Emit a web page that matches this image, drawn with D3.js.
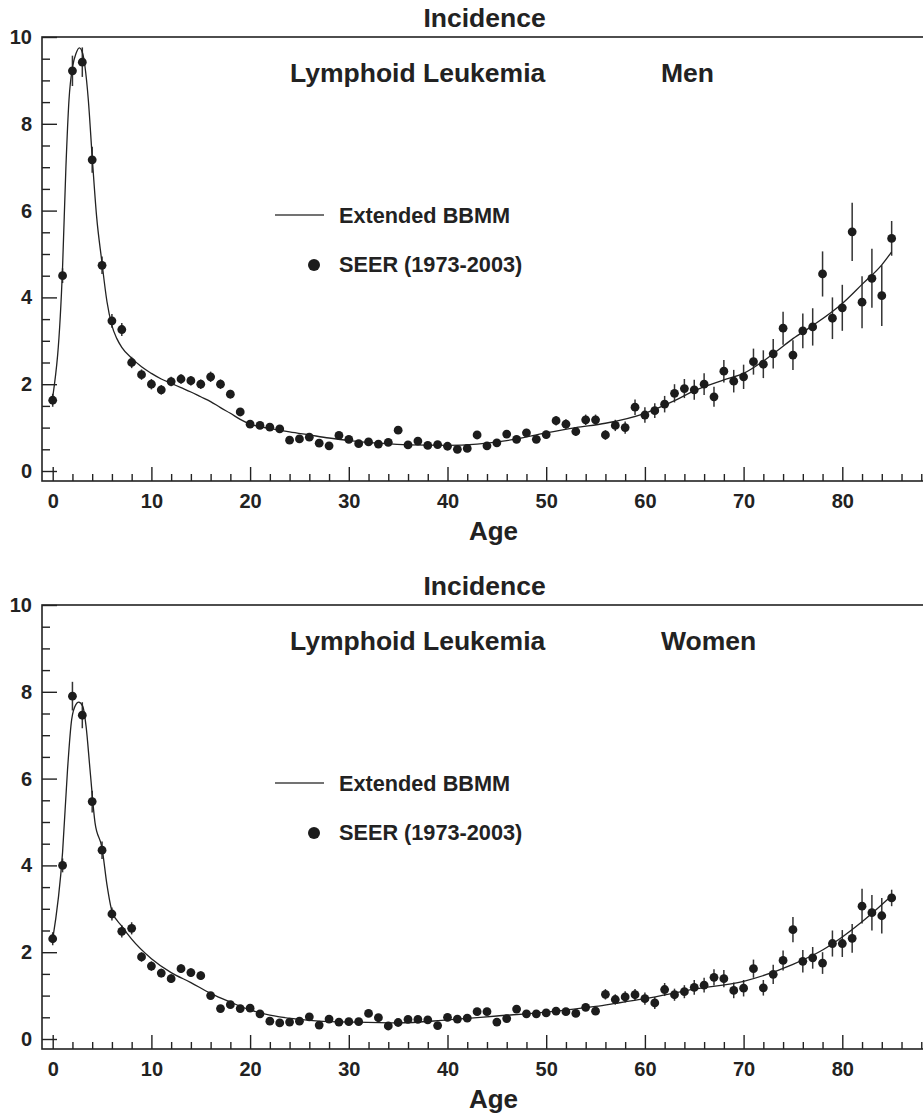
<!DOCTYPE html>
<html><head><meta charset="utf-8">
<script src="https://cdn.jsdelivr.net/npm/d3@7"></script>
<style>
html,body{margin:0;padding:0;background:#fff;}
svg{display:block;font-family:"Liberation Sans",Arial,Helvetica,sans-serif;font-weight:bold;}
</style></head><body>
<script>
const ages = d3.range(0, 86);
const menRate = [1.63,4.50,9.22,9.42,7.17,4.74,3.46,3.26,2.50,2.22,2.00,1.87,2.06,2.12,2.08,2.00,2.17,2.00,1.77,1.36,1.08,1.05,1.01,0.97,0.71,0.74,0.78,0.64,0.58,0.82,0.73,0.63,0.67,0.62,0.66,0.94,0.60,0.69,0.59,0.61,0.57,0.50,0.52,0.83,0.58,0.65,0.85,0.73,0.88,0.73,0.84,1.16,1.08,0.91,1.18,1.18,0.83,1.05,1.00,1.47,1.29,1.39,1.54,1.79,1.90,1.87,2.00,1.71,2.30,2.07,2.17,2.52,2.46,2.70,3.29,2.67,3.23,3.32,4.54,3.52,3.76,5.51,3.89,4.44,4.04,5.36];
const menErr = [0.15,0.17,0.35,0.34,0.30,0.20,0.16,0.15,0.13,0.12,0.12,0.11,0.11,0.11,0.11,0.11,0.12,0.11,0.10,0.09,0.08,0.08,0.08,0.08,0.07,0.07,0.07,0.07,0.07,0.07,0.07,0.07,0.07,0.07,0.07,0.08,0.07,0.07,0.07,0.07,0.07,0.07,0.07,0.08,0.07,0.08,0.08,0.08,0.09,0.08,0.09,0.11,0.11,0.10,0.12,0.12,0.11,0.13,0.14,0.18,0.18,0.17,0.19,0.21,0.22,0.23,0.25,0.23,0.26,0.26,0.28,0.30,0.32,0.34,0.38,0.34,0.40,0.43,0.52,0.48,0.53,0.67,0.60,0.68,0.70,0.40];
const menCurveAge = [0,1,1.34,1.65,2.02,2.36,2.7,3.04,3.27,3.61,4.02,4.45,4.96,5.5,6,6.5,7,8,9,10,11,12,13,14,15,16,17,18,19,20,22,24,26,28,30,33,36,40,43,46,50,53,56,60,63,65,68,70,73,75,77,80,82,84,85];
const menCurveVal = [1.7,4.7,7.01,8.55,9.32,9.62,9.75,9.62,9.32,8.55,7.17,5.86,4.86,3.9,3.35,3.05,2.85,2.6,2.4,2.25,2.12,2.02,1.92,1.82,1.71,1.6,1.46,1.33,1.19,1.08,0.98,0.9,0.83,0.76,0.70,0.64,0.60,0.59,0.62,0.70,0.88,1.0,1.1,1.33,1.62,1.85,2.1,2.25,2.7,3.05,3.35,3.86,4.3,4.75,5.05];

const womenRate = [2.31,4.00,7.90,7.46,5.47,4.35,2.88,2.48,2.55,1.89,1.68,1.52,1.39,1.62,1.53,1.46,1.00,0.70,0.79,0.70,0.71,0.58,0.41,0.37,0.39,0.41,0.51,0.32,0.46,0.39,0.40,0.40,0.59,0.49,0.30,0.38,0.45,0.45,0.44,0.31,0.50,0.46,0.48,0.63,0.63,0.39,0.47,0.69,0.58,0.58,0.60,0.64,0.63,0.59,0.73,0.64,1.03,0.91,0.97,1.02,0.93,0.83,1.14,1.02,1.09,1.19,1.24,1.42,1.39,1.12,1.17,1.62,1.18,1.49,1.81,2.52,1.79,1.87,1.75,2.20,2.20,2.32,3.06,2.91,2.84,3.25];
const womenErr = [0.15,0.16,0.33,0.30,0.25,0.20,0.15,0.14,0.14,0.11,0.11,0.10,0.10,0.10,0.10,0.10,0.08,0.07,0.07,0.07,0.07,0.06,0.05,0.05,0.05,0.05,0.06,0.05,0.05,0.05,0.05,0.05,0.06,0.05,0.05,0.05,0.05,0.05,0.05,0.05,0.06,0.05,0.05,0.06,0.06,0.05,0.06,0.07,0.06,0.06,0.06,0.07,0.07,0.07,0.07,0.07,0.12,0.12,0.13,0.13,0.14,0.14,0.15,0.14,0.15,0.17,0.17,0.19,0.20,0.18,0.19,0.21,0.18,0.22,0.23,0.29,0.26,0.25,0.25,0.30,0.31,0.33,0.40,0.41,0.41,0.19];
const womenCurveAge = [0,1,1.5,1.92,2.36,2.63,3.04,3.38,3.78,4.29,5,5.5,6,7,8,10,12,14,16,18,20,22,25,27,30,35,40,45,50,55,57,60,65,70,75,78,80,82,85];
const womenCurveVal = [2.3,4.3,6.2,7.36,7.71,7.76,7.67,7.21,6.21,4.98,4.4,3.55,2.95,2.6,2.3,1.85,1.53,1.3,1.05,0.85,0.67,0.55,0.45,0.41,0.39,0.37,0.44,0.53,0.62,0.75,0.82,0.93,1.15,1.33,1.72,2.05,2.35,2.7,3.3];

const xTicksMajor = [0,10,20,30,40,50,60,70,80];
const yTicksMajor = [0,2,4,6,8,10];
const titleText = "Incidence";
const diseaseText = "Lymphoid Leukemia";
const panelSex = ["Men","Women"];
const legendLine = "Extended BBMM";
const legendDots = "SEER (1973-2003)";
const xLabel = "Age";

const W = 923, H = 1115;
const svg = d3.select("body").append("svg").attr("width", W).attr("height", H);

const panels = [
  {off: 0, rate: menRate, err: menErr, cA: menCurveAge, cV: menCurveVal, sex: panelSex[0]},
  {off: 568, rate: womenRate, err: womenErr, cA: womenCurveAge, cV: womenCurveVal, sex: panelSex[1]}
];

const x = d3.scaleLinear().domain([0, 80]).range([52.7, 842.3]);
const frameL = 42, frameR = 935;

panels.forEach(p => {
  const g = svg.append("g").attr("transform", `translate(0,${p.off})`);
  const y = d3.scaleLinear().domain([0, 10]).range([471, 37]);
  const frameT = 37, frameB = 481;

  // frame
  g.append("rect").attr("x", frameL).attr("y", frameT).attr("width", frameR - frameL).attr("height", frameB - frameT)
    .attr("fill", "none").attr("stroke", "#222").attr("stroke-width", 1.6);

  // x axis minor
  const xMinor = d3.range(0, 89, 2).filter(v => v % 10 !== 0);
  const gxm = g.append("g").attr("transform", `translate(0,${frameB})`)
    .call(d3.axisBottom(x).tickValues(xMinor).tickSize(-7).tickFormat("").tickSizeOuter(0));
  const gx = g.append("g").attr("transform", `translate(0,${frameB})`)
    .call(d3.axisBottom(x).tickValues(xTicksMajor).tickSize(-14).tickPadding(13).tickSizeOuter(0).tickFormat(d3.format("d")));
  [gxm, gx].forEach(a => { a.select(".domain").remove(); a.selectAll("line").attr("stroke", "#222").attr("stroke-width", 1.4); });
  gx.selectAll("text").attr("font-size", 20).attr("font-weight", "bold").attr("fill", "#222")
    .attr("font-family", "'Liberation Sans', Arial, sans-serif");

  // y axis
  const yMinor = d3.range(0, 10.01, 0.5).filter(v => v % 2 !== 0);
  const gym = g.append("g").attr("transform", `translate(${frameL},0)`)
    .call(d3.axisLeft(y).tickValues(yMinor).tickSize(-8).tickFormat("").tickSizeOuter(0));
  const gy = g.append("g").attr("transform", `translate(${frameL},0)`)
    .call(d3.axisLeft(y).tickValues(yTicksMajor).tickSize(-15).tickPadding(10).tickSizeOuter(0).tickFormat(d3.format("d")));
  [gym, gy].forEach(a => { a.select(".domain").remove(); a.selectAll("line").attr("stroke", "#222").attr("stroke-width", 1.4); });
  gy.selectAll("text").attr("font-size", 20).attr("font-weight", "bold").attr("fill", "#222")
    .attr("font-family", "'Liberation Sans', Arial, sans-serif");

  // error bars
  g.append("g").selectAll("line").data(ages).join("line")
    .attr("x1", d => x(d)).attr("x2", d => x(d))
    .attr("y1", (d, i) => y(p.rate[i] - p.err[i]))
    .attr("y2", (d, i) => y(p.rate[i] + p.err[i]))
    .attr("stroke", "#333").attr("stroke-width", 1.5);

  // model curve
  const line = d3.line().x(d => x(d[0])).y(d => y(d[1])).curve(d3.curveMonotoneX);
  g.append("path").datum(p.cA.map((a, i) => [a, p.cV[i]]))
    .attr("d", line).attr("fill", "none").attr("stroke", "#222").attr("stroke-width", 1.3);

  // dots
  g.append("g").selectAll("circle").data(ages).join("circle")
    .attr("cx", d => x(d)).attr("cy", (d, i) => y(p.rate[i])).attr("r", 4.4)
    .attr("fill", "#1c1c1c");

  // texts
  g.append("text").attr("x", 484.5).attr("y", 27).attr("text-anchor", "middle")
    .attr("font-size", 26.5).attr("fill", "#222").text(titleText);
  g.append("text").attr("x", 290).attr("y", 82)
    .attr("font-size", 26.5).attr("fill", "#222").text(diseaseText);
  g.append("text").attr("x", 661).attr("y", 82)
    .attr("font-size", 26.5).attr("fill", "#222").text(p.sex);

  // legend
  g.append("line").attr("x1", 275).attr("x2", 324).attr("y1", 215).attr("y2", 215)
    .attr("stroke", "#444").attr("stroke-width", 1.3);
  g.append("text").attr("x", 339).attr("y", 223).attr("font-size", 21.7).attr("fill", "#222").text(legendLine);
  g.append("circle").attr("cx", 314).attr("cy", 265).attr("r", 6).attr("fill", "#1c1c1c");
  g.append("text").attr("x", 339).attr("y", 272).attr("font-size", 21.7).attr("fill", "#222").text(legendDots);

  // axis label
  g.append("text").attr("x", 493.5).attr("y", 540).attr("text-anchor", "middle")
    .attr("font-size", 26).attr("fill", "#222").text(xLabel);
});
</script>
</body></html>
